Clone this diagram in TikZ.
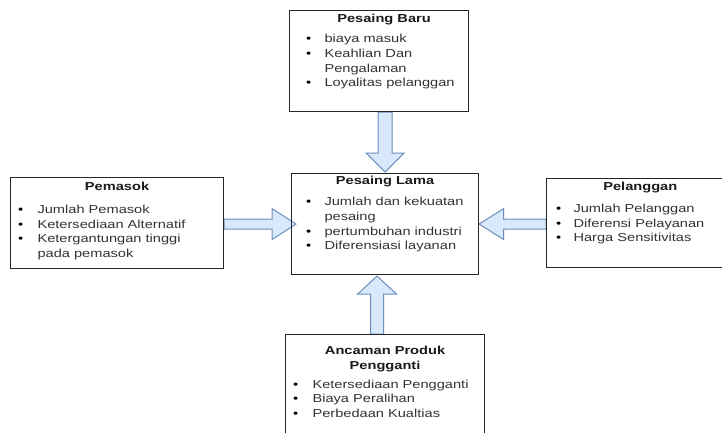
\documentclass[tikz,border=0pt]{standalone}
\usepackage{fontspec}
\setmainfont{Liberation Sans}[FakeStretch=1.26]
\usetikzlibrary{calc}
\pgfdeclarelayer{bg}
\pgfsetlayers{bg,main}
\definecolor{arrfill}{HTML}{DAE8FC}
\definecolor{arrline}{HTML}{6C8EBF}
\definecolor{txt}{HTML}{333333}
\definecolor{ttl}{HTML}{1A1A1A}
\definecolor{brd}{HTML}{262626}
\newlength\bulx
\newlength\txtx
\newcommand\itm[1]{\par\hangindent=\txtx\hangafter=1\noindent\hbox to\txtx{\hspace{\bulx}\textcolor{black}{\textbullet}\hfil}#1}
\newcommand\ttlline[3]{\noindent\makebox[\hsize]{\hspace{#1}\rule{0pt}{#2}\textcolor{ttl}{\bfseries #3}}\par}
\newcommand\gap[1]{\vspace{\dimexpr#1-14.7pt\relax}}
\newcommand\content[5]{\begin{minipage}[t][#2][t]{#1}\fontsize{11.6}{14.7}\selectfont\color{txt}\setlength\bulx{#3}\setlength\txtx{#4}\lineskiplimit=-100pt\parskip=0pt\parindent=0pt\rightskip=0pt plus 1fil #5\end{minipage}}
\tikzset{
  box/.style={draw=brd, line width=1.1pt, inner sep=0pt, anchor=north west},
  blockarr/.style={draw=arrline, fill=arrfill, line width=1pt, line join=miter}
}
\begin{document}
\begin{tikzpicture}[x=1pt,y=-1pt]
\useasboundingbox (0,0) rectangle (722,432);
\clip (0,0) rectangle (722,432);
\begin{pgfonlayer}{bg}
\fill[white] (0,0) rectangle (722,432);
\end{pgfonlayer}

\node[box, minimum width=179pt, minimum height=101pt] (baru) at (289,10)
 {\content{179pt}{101pt}{16.5pt}{35pt}{%
  \ttlline{10pt}{12pt}{Pesaing Baru}\gap{20.3pt}%
  \itm{biaya masuk}\itm{Keahlian Dan\newline Pengalaman}\itm{Loyalitas pelanggan}\par}};

\node[box, minimum width=187pt, minimum height=101pt] (lama) at (291,173)
 {\content{187pt}{101pt}{14.5pt}{33pt}{%
  \ttlline{0pt}{10.5pt}{Pesaing Lama}\gap{21.7pt}%
  \itm{Jumlah dan kekuatan\newline pesaing}\itm{pertumbuhan industri}\itm{Diferensiasi layanan}\par}};

\node[box, minimum width=213pt, minimum height=91pt] (pemasok) at (10,177)
 {\content{213pt}{91pt}{7.5pt}{27pt}{%
  \ttlline{0pt}{12.5pt}{Pemasok}\gap{23.5pt}%
  \itm{Jumlah Pemasok}\itm{Ketersediaan Alternatif}\itm{Ketergantungan tinggi\newline pada pemasok}\par}};

\node[box, minimum width=175.5pt, minimum height=89pt] (pelanggan) at (546,178)
 {\content{175.5pt}{89pt}{9.5pt}{27pt}{%
  \ttlline{12pt}{12pt}{Pelanggan}\gap{22pt}%
  \itm{Jumlah Pelanggan}\itm{Diferensi Pelayanan}\itm{Harga Sensitivitas}\par}};

\node[box, minimum width=199pt, minimum height=108pt] (ancaman) at (285,334)
 {\content{199pt}{108pt}{7.5pt}{27pt}{%
  \ttlline{0pt}{20pt}{Ancaman Produk}%
  \ttlline{0pt}{10pt}{Pengganti}\gap{19pt}%
  \itm{Ketersediaan Pengganti}\itm{Biaya Peralihan}\itm{Perbedaan Kualtias}\par}};

\begin{pgfonlayer}{bg}
% top arrow
\draw[blockarr] ($(baru.south -| lama.north)+(-7,0)$) -- ($(lama.north)+(-7,-20)$) -- ($(lama.north)+(-19,-20)$) -- ($(lama.north)+(0,-1)$) -- ($(lama.north)+(19,-20)$) -- ($(lama.north)+(7,-20)$) -- ($(baru.south -| lama.north)+(7,0)$) -- cycle;
% bottom arrow
\coordinate (bt) at ($(lama.south)+(-8,1)$);
\draw[blockarr] ($(ancaman.north -| bt)+(-6.5,0)$) -- ($(bt)+(-6.5,18)$) -- ($(bt)+(-19.5,18)$) -- (bt) -- ($(bt)+(19.5,18)$) -- ($(bt)+(6.5,18)$) -- ($(ancaman.north -| bt)+(6.5,0)$) -- cycle;
% left arrow
\coordinate (lt) at ($(lama.west)+(5,0)$);
\draw[blockarr] ($(pemasok.east |- lt)+(0,-5)$) -- ($(lt)+(-24,-5)$) -- ($(lt)+(-24,-15.5)$) -- (lt) -- ($(lt)+(-24,15.5)$) -- ($(lt)+(-24,5)$) -- ($(pemasok.east |- lt)+(0,5)$) -- cycle;
% right arrow
\coordinate (rt) at (lama.east);
\draw[blockarr] ($(pelanggan.west |- rt)+(0,-5)$) -- ($(rt)+(24.5,-5)$) -- ($(rt)+(24.5,-15.5)$) -- (rt) -- ($(rt)+(24.5,15.5)$) -- ($(rt)+(24.5,5)$) -- ($(pelanggan.west |- rt)+(0,5)$) -- cycle;
\end{pgfonlayer}
\end{tikzpicture}
\end{document}
